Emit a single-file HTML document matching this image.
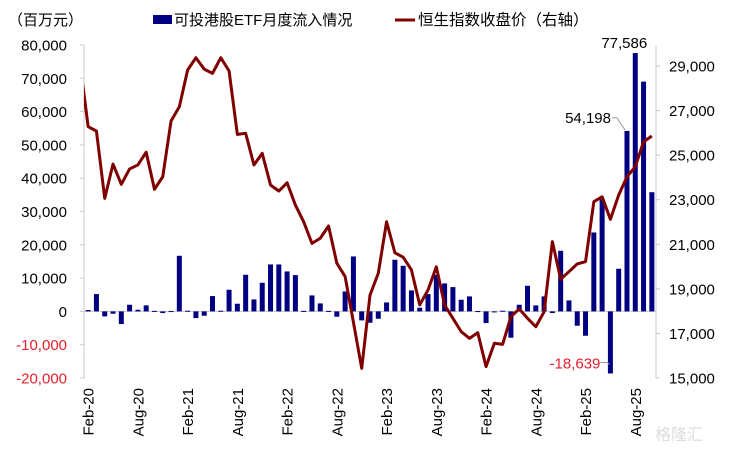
<!DOCTYPE html>
<html><head><meta charset="utf-8">
<style>
html,body{margin:0;padding:0;background:#fff;}
svg{display:block;font-family:"Liberation Sans","Noto Sans CJK SC",sans-serif;}
</style></head>
<body>
<svg id="chart" width="730" height="451" viewBox="0 0 730 451" xmlns="http://www.w3.org/2000/svg">
  <defs><clipPath id="plotclip"><rect x="84" y="40" width="572" height="340"/></clipPath></defs>
  <text x="8" y="25" font-size="15" fill="#000">（百万元）</text>
  <g>
    <rect x="153" y="15" width="19" height="9" fill="#000080"/>
    <text x="174" y="25" font-size="15" fill="#000">可投港股ETF月度流入情况</text>
    <line x1="395" y1="20" x2="415" y2="20" stroke="#800000" stroke-width="3"/>
    <text x="418" y="25" font-size="15.5" fill="#000">恒生指数收盘价（右轴）</text>
  </g>
  <g id="axes"></g>
  <g id="bars"></g>
  <g id="line" clip-path="url(#plotclip)"></g>
  <g id="labels"></g>
  <text x="655" y="440" font-size="16" fill="#ddd">格隆汇</text>
</svg>
<script>
const months = ["Feb-20","Mar-20","Apr-20","May-20","Jun-20","Jul-20","Aug-20","Sep-20","Oct-20","Nov-20","Dec-20","Jan-21","Feb-21","Mar-21","Apr-21","May-21","Jun-21","Jul-21","Aug-21","Sep-21","Oct-21","Nov-21","Dec-21","Jan-22","Feb-22","Mar-22","Apr-22","May-22","Jun-22","Jul-22","Aug-22","Sep-22","Oct-22","Nov-22","Dec-22","Jan-23","Feb-23","Mar-23","Apr-23","May-23","Jun-23","Jul-23","Aug-23","Sep-23","Oct-23","Nov-23","Dec-23","Jan-24","Feb-24","Mar-24","Apr-24","May-24","Jun-24","Jul-24","Aug-24","Sep-24","Oct-24","Nov-24","Dec-24","Jan-25","Feb-25","Mar-25","Apr-25","May-25","Jun-25","Jul-25","Aug-25","Sep-25","Oct-25"];
const etfFlows = [400,5200,-1500,-700,-3800,2000,500,1800,150,-500,100,16700,200,-2000,-1300,4600,200,6500,2300,11000,3600,8600,14100,14100,12000,10900,150,4800,2400,150,-1600,6000,16500,-2700,-3400,-2200,2700,15500,13700,6300,1100,5200,11000,8400,7300,3500,4500,100,-3500,-300,200,-7900,2000,7700,1800,4500,-500,18200,3300,-4300,-7300,23700,33700,-18639,12800,54198,77586,69000,35800];
const hsiClose = [26280,26080,23060,24600,23690,24380,24560,25130,23470,24030,26530,27170,28820,29370,28860,28670,29370,28780,25930,25980,24560,25080,23660,23390,23760,22760,22010,21040,21270,21820,20150,19550,17500,15430,18720,19700,22010,20620,20420,19850,18280,18950,19990,18280,17680,17080,16780,17030,15510,16560,16510,17750,18100,17680,17300,17970,21120,19430,19770,20120,20220,22910,23130,22120,23210,24030,24480,25600,25860];
const hsiPrev = 29180;
const leftTicks = [80000,70000,60000,50000,40000,30000,20000,10000,0,-10000,-20000];
const rightTicks = [29000,27000,25000,23000,21000,19000,17000,15000];
const xTickLabels = ["Feb-20","Aug-20","Feb-21","Aug-21","Feb-22","Aug-22","Feb-23","Aug-23","Feb-24","Aug-24","Feb-25","Aug-25"];

const NS="http://www.w3.org/2000/svg";
const X0=84, X1=656, YT=45, YB=378;
const band=(X1-X0)/months.length;
const xC=i=>X0+band*(i+0.5);
const yL=v=>YB-(v-(-20000))*(YB-YT)/100000;
const yR=v=>YB-(v-15000)*(YB-66)/14000;
function mk(tag,attrs,parent){const e=document.createElementNS(NS,tag);for(const k in attrs)e.setAttribute(k,attrs[k]);parent.appendChild(e);return e;}

const axes=document.getElementById('axes');
let e=mk('line',{x1:X0,y1:YT,x2:X0,y2:YB,stroke:'#c8c8c8','stroke-width':1},axes);


e=mk('line',{x1:X1,y1:YT,x2:X1,y2:YB,stroke:'#c8c8c8','stroke-width':1},axes);


e=mk('line',{x1:X0,y1:yL(0),x2:X1,y2:yL(0),stroke:'#c8c8c8','stroke-width':1},axes);


leftTicks.forEach(v=>{
  const y=yL(v);
  const t=mk('line',{x1:X0-4,y1:y,x2:X0,y2:y,stroke:'#c8c8c8'},axes);
  
  
  const tx=mk('text',{x:67,y:y+5.5,'text-anchor':'end','font-size':15,fill:v<0?'#e4202c':'#000'},axes);
  tx.textContent=v.toLocaleString('en-US');
  
  
});
rightTicks.forEach(v=>{
  const y=yR(v);
  const t=mk('line',{x1:X1,y1:y,x2:X1+4,y2:y,stroke:'#c8c8c8'},axes);
  
  
  const tx=mk('text',{x:669,y:y+5.5,'font-size':15,fill:'#000'},axes);
  tx.textContent=v.toLocaleString('en-US');
  
  
});
xTickLabels.forEach(lbl=>{
  const i=months.indexOf(lbl);
  const x=xC(i)+1;
  const tx=mk('text',{x:0,y:0,transform:`translate(${x},388) rotate(-90)`,'text-anchor':'end','dominant-baseline':'central','font-size':15,fill:'#000'},axes);
  tx.textContent=lbl;
  
  
});

const bars=document.getElementById('bars');
etfFlows.forEach((v,i)=>{
  const y0=yL(0), y=yL(v);
  const r=mk('rect',{x:xC(i)-2.5,y:Math.min(y,y0),width:5,height:Math.max(Math.abs(y-y0),1),fill:'#000080'},bars);
  
  
});

const lineG=document.getElementById('line');
let d=`M${xC(-1)},${yR(hsiPrev)}`;
hsiClose.forEach((v,i)=>{d+=` L${xC(i)},${yR(v)}`;});
const p=mk('path',{d:d,fill:'none',stroke:'#800000','stroke-width':3,'stroke-linejoin':'round'},lineG);



const labels=document.getElementById('labels');
function ann(i,text,color,dx,dy,anchor,leader){
  const bx=xC(i), by=yL(etfFlows[i]);
  const tx=mk('text',{x:bx+dx,y:by+dy,'text-anchor':anchor,'font-size':15,fill:color},labels);
  tx.textContent=text;
  
  
  if(leader){
    const l=mk('polyline',{points:leader(bx,by),fill:'none',stroke:'#999','stroke-width':1},labels);
    
    
  }
}
const iMax=etfFlows.indexOf(Math.max(...etfFlows));
const iMin=etfFlows.indexOf(Math.min(...etfFlows));
const i2=months.indexOf("Jul-25");
ann(iMax,etfFlows[iMax].toLocaleString('en-US'),'#000',-11,-5,'middle',null);
ann(i2,etfFlows[i2].toLocaleString('en-US'),'#000',-16,-8,'end',(bx,by)=>`${bx-15},${by-13} ${bx-10},${by-13} ${bx-2},${by-1}`);
ann(iMin,etfFlows[iMin].toLocaleString('en-US'),'#e4202c',-10,-5,'end',(bx,by)=>`${bx-10},${by-11} ${bx-3},${by-11} ${bx-1},${by-9}`);
</script>
</body></html>
